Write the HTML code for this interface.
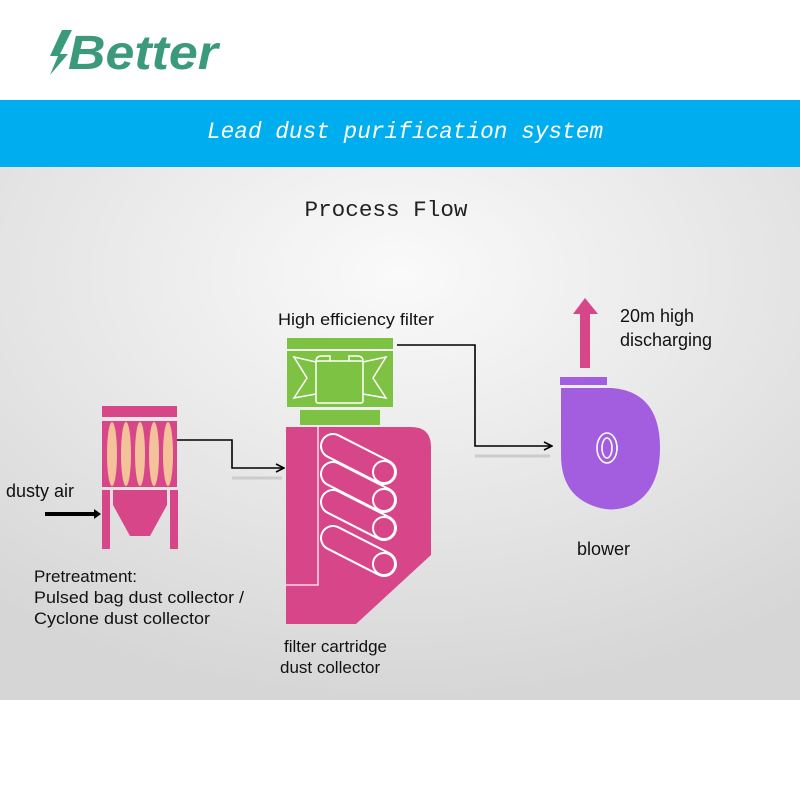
<!DOCTYPE html>
<html><head><meta charset="utf-8"><style>
body{margin:0;width:800px;height:800px;overflow:hidden;background:#fff;font-family:"Liberation Sans",sans-serif}
</style></head><body>
<svg width="800" height="800" viewBox="0 0 800 800" xmlns="http://www.w3.org/2000/svg">
<defs>
<radialGradient id="bg" cx="0.5" cy="0.2" r="0.8">
<stop offset="0" stop-color="#fafafa"/><stop offset="1" stop-color="#d6d6d6"/>
</radialGradient>
<marker id="ar" markerWidth="10" markerHeight="10" refX="9" refY="5" orient="auto" markerUnits="userSpaceOnUse">
<path d="M1,1 L9,5 L1,9" fill="none" stroke="#000" stroke-width="1.6"/></marker>
</defs>
<rect x="0" y="167" width="800" height="533" fill="url(#bg)"/>
<rect x="0" y="100" width="800" height="67" fill="#00aeef"/>
<text x="405" y="138" font-family="Liberation Mono,monospace" font-style="italic" font-size="23" fill="#fff" text-anchor="middle" textLength="396" lengthAdjust="spacingAndGlyphs">Lead dust purification system</text>
<!-- logo -->
<path d="M62,30 L72,30 L60,54 L68,54 L50,75 L58,56 L50,56 Z" fill="#3a9a7a"/>
<text x="68" y="69" font-size="48" font-style="italic" font-weight="bold" fill="#3a9a7a" font-family="Liberation Sans,sans-serif" textLength="150" lengthAdjust="spacingAndGlyphs">Better</text>
<text x="386" y="216" font-family="Liberation Mono,monospace" font-size="22" fill="#222" text-anchor="middle" textLength="163" lengthAdjust="spacingAndGlyphs">Process Flow</text>

<!-- pretreatment -->
<rect x="102" y="406" width="75" height="11" fill="#d8468a"/>
<rect x="102" y="421" width="75" height="66" fill="#d8468a"/>
<g fill="#f3c29a">
<ellipse cx="112" cy="454" rx="5" ry="32"/><ellipse cx="126" cy="454" rx="5" ry="32"/><ellipse cx="140" cy="454" rx="5" ry="32"/><ellipse cx="154" cy="454" rx="5" ry="32"/><ellipse cx="168" cy="454" rx="5" ry="32"/>
</g>
<rect x="102" y="490" width="8" height="59" fill="#d8468a"/>
<rect x="170" y="490" width="8" height="59" fill="#d8468a"/>
<path d="M113,490 L167,490 L167,505 L150,536 L130,536 L113,505 Z" fill="#d8468a"/>
<line x1="45" y1="514" x2="96" y2="514" stroke="#000" stroke-width="4"/>
<path d="M94,509 L101,514 L94,519 Z" fill="#000"/>
<text x="6" y="497" font-size="18" fill="#111">dusty air</text>
<text x="34" y="582" font-size="17" fill="#111">Pretreatment:</text>
<text x="34" y="603" font-size="17" fill="#111" textLength="210" lengthAdjust="spacingAndGlyphs">Pulsed bag dust collector /</text>
<text x="34" y="624" font-size="17" fill="#111" textLength="176" lengthAdjust="spacingAndGlyphs">Cyclone dust collector</text>

<polyline points="177,440 232,440 232,468 284,468" fill="none" stroke="#000" stroke-width="1.6" marker-end="url(#ar)"/>
<line x1="232" y1="478" x2="282" y2="478" stroke="#ccc" stroke-width="3"/>

<!-- filter -->
<rect x="287" y="338" width="106" height="11" fill="#7dc242"/>
<rect x="287" y="351" width="106" height="56" fill="#7dc242"/>
<rect x="300" y="410" width="80" height="15" fill="#7dc242"/>
<g fill="none" stroke="#fff" stroke-width="1.5">
<path d="M316,362 L294,357 L307,378 L294,398 L316,394"/>
<path d="M363,362 L386,357 L373,378 L386,398 L363,394"/>
<path d="M316,361 Q316,356 322,356 L330,356 L330,361 M349,361 L349,356 L357,356 Q363,356 363,361"/>
<rect x="316" y="361" width="47" height="42" rx="2"/>
</g>
<text x="278" y="325" font-size="17" fill="#111" textLength="156" lengthAdjust="spacingAndGlyphs">High efficiency filter</text>
<path d="M286,427 L411,427 Q431,427 431,447 L431,555 L356,624 L286,624 Z" fill="#d8468a"/>
<polyline points="318,427 318,585 286,585" fill="none" stroke="#fbd6e6" stroke-width="1.6"/>
<g stroke-linecap="round">
<line x1="333" y1="446" x2="384" y2="472" stroke="#fff" stroke-width="26"/><line x1="333" y1="446" x2="384" y2="472" stroke="#d8468a" stroke-width="22"/>
<circle cx="384" cy="472" r="11" fill="#d8468a" stroke="#fff" stroke-width="2"/>
<line x1="333" y1="474" x2="384" y2="500" stroke="#fff" stroke-width="26"/><line x1="333" y1="474" x2="384" y2="500" stroke="#d8468a" stroke-width="22"/>
<circle cx="384" cy="500" r="11" fill="#d8468a" stroke="#fff" stroke-width="2"/>
<line x1="333" y1="502" x2="384" y2="528" stroke="#fff" stroke-width="26"/><line x1="333" y1="502" x2="384" y2="528" stroke="#d8468a" stroke-width="22"/>
<circle cx="384" cy="528" r="11" fill="#d8468a" stroke="#fff" stroke-width="2"/>
<line x1="333" y1="538" x2="384" y2="564" stroke="#fff" stroke-width="26"/><line x1="333" y1="538" x2="384" y2="564" stroke="#d8468a" stroke-width="22"/>
<circle cx="384" cy="564" r="11" fill="#d8468a" stroke="#fff" stroke-width="2"/>
</g>
<text x="284" y="652" font-size="17" fill="#111">filter cartridge</text>
<text x="280" y="673" font-size="17" fill="#111">dust collector</text>

<polyline points="397,345 475,345 475,446 552,446" fill="none" stroke="#000" stroke-width="1.6" marker-end="url(#ar)"/>
<line x1="475" y1="456" x2="550" y2="456" stroke="#ccc" stroke-width="3"/>

<!-- blower -->
<rect x="580" y="312" width="10" height="56" fill="#d8468a"/>
<path d="M573,314 L585,298 L598,314 Z" fill="#d8468a"/>
<rect x="560" y="377" width="47" height="8" fill="#a35ee0"/>
<path d="M561,388 L612,388 Q660,392 660,448 Q660,490 632,505 Q615,512 600,508 Q561,498 561,455 Z" fill="#a35ee0"/>
<ellipse cx="607" cy="448" rx="10" ry="15" fill="none" stroke="#fff" stroke-width="1.6"/>
<ellipse cx="607" cy="448" rx="5" ry="10" fill="none" stroke="#fff" stroke-width="1.6"/>
<text x="620" y="322" font-size="18" fill="#111">20m high</text>
<text x="620" y="346" font-size="18" fill="#111">discharging</text>
<text x="577" y="555" font-size="18" fill="#111">blower</text>
</svg>
</body></html>
